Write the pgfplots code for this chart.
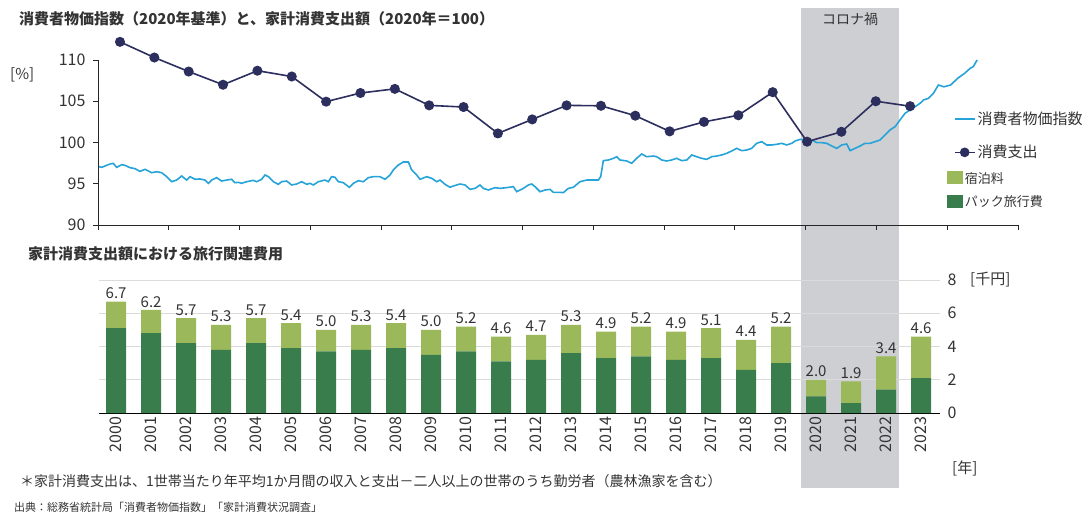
\documentclass[border=0pt]{standalone}
\usepackage{fontspec}
\setmainfont{Noto Sans CJK JP}
\usepackage{pgfplots}
\pgfplotsset{compat=1.18}
\usepackage{pgfplotstable}

\definecolor{cpi}{RGB}{38,163,216}
\definecolor{spend}{RGB}{44,46,94}
\definecolor{pack}{RGB}{58,125,76}
\definecolor{inn}{RGB}{155,184,90}
\definecolor{band}{RGB}{206,207,210}
\definecolor{txt}{RGB}{51,51,51}
\newcommand\fs[1]{\fontsize{#1}{#1}\selectfont}

\pgfplotstableread{
year pack inn total
2000 5.1 1.6 6.7
2001 4.8 1.4 6.2
2002 4.2 1.5 5.7
2003 3.8 1.5 5.3
2004 4.2 1.5 5.7
2005 3.9 1.5 5.4
2006 3.7 1.3 5.0
2007 3.8 1.5 5.3
2008 3.9 1.5 5.4
2009 3.5 1.5 5.0
2010 3.7 1.5 5.2
2011 3.1 1.5 4.6
2012 3.2 1.5 4.7
2013 3.6 1.7 5.3
2014 3.3 1.6 4.9
2015 3.4 1.8 5.2
2016 3.2 1.7 4.9
2017 3.3 1.8 5.1
2018 2.6 1.8 4.4
2019 3.0 2.2 5.2
2020 1.0 1.0 2.0
2021 0.6 1.3 1.9
2022 1.4 2.0 3.4
2023 2.1 2.5 4.6
}\travel

\pgfplotstableread{
year val
2000 112.2
2001 110.3
2002 108.6
2003 107.0
2004 108.7
2005 108.0
2006 104.95
2007 106.0
2008 106.5
2009 104.5
2010 104.3
2011 101.1
2012 102.8
2013 104.5
2014 104.45
2015 103.25
2016 101.35
2017 102.5
2018 103.3
2019 106.1
2020 100.1
2021 101.3
2022 105.0
2023 104.4
}\spenddata

\pgfplotstableread{
t val
1999.389 97.07
1999.466 96.99
1999.709 97.39
1999.806 97.47
1999.903 96.99
2000.049 97.31
2000.146 97.23
2000.291 96.95
2000.437 96.83
2000.582 96.50
2000.728 96.75
2000.922 96.34
2001.068 96.46
2001.213 96.34
2001.359 95.86
2001.504 95.25
2001.650 95.45
2001.795 95.94
2001.941 95.45
2002.038 95.86
2002.183 95.54
2002.329 95.58
2002.474 95.45
2002.572 95.05
2002.669 95.45
2002.814 95.74
2002.960 95.33
2003.105 95.45
2003.251 95.54
2003.348 95.13
2003.445 95.17
2003.542 95.05
2003.688 95.25
2003.882 95.41
2003.979 95.25
2004.124 95.54
2004.221 96.06
2004.318 95.86
2004.464 95.25
2004.609 94.93
2004.706 95.25
2004.852 95.33
2004.998 94.85
2005.143 94.97
2005.289 95.25
2005.434 94.93
2005.531 95.05
2005.628 94.85
2005.774 95.25
2005.968 95.45
2006.065 95.25
2006.162 95.86
2006.259 95.78
2006.356 95.25
2006.502 95.13
2006.676 94.57
2006.793 95.05
2006.938 95.37
2007.084 95.25
2007.229 95.74
2007.375 95.86
2007.569 95.86
2007.715 95.54
2007.860 96.06
2007.957 96.67
2008.103 97.27
2008.248 97.64
2008.394 97.64
2008.491 96.67
2008.637 96.06
2008.734 95.54
2008.928 95.86
2009.073 95.66
2009.219 95.25
2009.316 95.45
2009.462 94.93
2009.607 94.57
2009.704 94.73
2009.899 94.97
2010.044 94.85
2010.190 94.32
2010.335 94.44
2010.481 94.85
2010.577 94.44
2010.723 94.24
2010.917 94.53
2011.062 94.44
2011.256 94.53
2011.450 94.65
2011.547 94.04
2011.742 94.44
2011.887 94.85
2011.984 94.97
2012.081 94.65
2012.227 94.04
2012.372 94.24
2012.518 94.32
2012.615 93.96
2012.809 93.96
2012.906 93.92
2013.052 94.44
2013.197 94.57
2013.391 95.25
2013.585 95.45
2013.779 95.45
2013.925 95.45
2013.993 95.86
2014.070 97.80
2014.216 97.88
2014.362 98.08
2014.459 98.28
2014.556 97.88
2014.750 97.76
2014.895 97.48
2015.041 98.08
2015.186 98.61
2015.332 98.28
2015.526 98.36
2015.623 98.28
2015.769 97.88
2015.914 97.76
2016.060 97.88
2016.205 98.08
2016.351 97.80
2016.497 97.88
2016.642 98.49
2016.788 98.28
2016.933 98.08
2017.079 97.96
2017.224 98.28
2017.370 98.36
2017.515 98.49
2017.661 98.69
2017.807 98.97
2017.952 99.29
2018.098 99.01
2018.243 99.09
2018.389 99.29
2018.534 99.90
2018.680 100.10
2018.826 99.70
2018.971 99.70
2019.117 99.78
2019.262 99.90
2019.408 99.70
2019.553 99.90
2019.650 100.18
2019.796 100.38
2019.942 100.30
2020.039 100.30
2020.184 100.22
2020.281 99.98
2020.427 99.98
2020.572 99.90
2020.718 99.58
2020.863 99.29
2021.009 99.70
2021.154 99.82
2021.252 99.01
2021.397 99.29
2021.543 99.58
2021.688 99.90
2021.834 99.90
2021.979 100.10
2022.125 100.30
2022.270 100.91
2022.416 101.52
2022.562 101.92
2022.707 102.73
2022.853 103.54
2022.998 103.94
2023.144 104.34
2023.289 104.75
2023.387 105.15
2023.532 105.35
2023.678 105.96
2023.823 106.97
2023.980 106.75
2024.180 106.97
2024.390 107.80
2024.590 108.40
2024.750 109.00
2024.840 109.20
2024.950 110.00
}\cpidata

\begin{document}
\begin{tikzpicture}[x=1pt,y=1pt]
\useasboundingbox (0,0) rectangle (1088,515);
% Corona band
\fill[band] (801,27) rectangle (899,507);
\node[anchor=base, font=\fs{14}, text=txt, inner sep=0] at (850,490) {コロナ禍};

% titles and notes
\node[anchor=base west, font=\bfseries\fs{15}, text=txt, inner sep=0] at (19,490) {消費者物価指数（2020年基準）と、家計消費支出額（2020年＝100）};
\node[anchor=base west, font=\bfseries\fs{15}, text=txt, inner sep=0] at (28,255) {家計消費支出額における旅行関連費用};
\node[anchor=base west, font=\fs{14}, text=txt, inner sep=0] at (20,29) {＊家計消費支出は、1世帯当たり年平均1か月間の収入と支出－二人以上の世帯のうち勤労者（農林漁家を含む）};
\node[anchor=base west, font=\fs{11}, text=txt, inner sep=0] at (14,4) {出典：総務省統計局「消費者物価指数」「家計消費状況調査」};
\node[anchor=base west, font=\fs{15}, text=txt, inner sep=0] at (10,435) {[\%]};
\node[anchor=base west, font=\fs{15}, text=txt, inner sep=0] at (970,230) {[千円]};
\node[anchor=base west, font=\fs{15}, text=txt, inner sep=0] at (952,42) {[年]};

% top axis
\begin{axis}[
  at={(98pt,290pt)}, anchor=south west, scale only axis,
  width=920pt, height=165pt,
  xmin=1999.36, xmax=2026.14, ymin=90, ymax=110, clip=false,
  axis x line*=bottom, axis y line*=left,
  axis line style={-, draw=black!85, line width=0.9pt},
  xtick={1999.36,2001.42,2003.48,2005.54,2007.60,2009.66,2011.72,2013.78,2015.84,2017.90,2019.96,2022.02,2024.08,2026.14},
  xticklabels={},
  ytick={90,95,100,105,110},
  yticklabel pos=left,
  tick align=outside, major tick length=5pt,
  tick style={draw=black!85, line width=0.9pt},
  yticklabel style={font=\fs{16}, text=txt, anchor=east, xshift=-4pt},
  /pgf/number format/assume math mode=true,
  legend cell align=left,
  legend style={at={(0.930,0.697)}, anchor=north west, draw=none, fill=none,
    font=\fs{15}, text=txt, row sep=15pt, inner sep=0pt},
]
\addplot[cpi, line width=1.6pt, no marks,
  legend image code/.code={\draw[cpi, line width=1.8pt] (0pt,0pt) -- (20pt,0pt);}]
  table[x=t, y=val] {\cpidata};
\addplot[spend, line width=1.6pt, mark=*, mark size=4.2pt, mark options={fill=spend, draw=spend, solid},
  legend image code/.code={\draw[spend, line width=1.6pt] (0pt,0pt) -- (20pt,0pt); \fill[spend] (10pt,0pt) circle (4pt);}]
  table[x=year, y=val] {\spenddata};
\legend{消費者物価指数, 消費支出}
\end{axis}

% bottom axis
\begin{axis}[
  at={(99pt,102pt)}, anchor=south west, scale only axis,
  width=841pt, height=133pt,
  xmin=1999.51, xmax=2023.54, ymin=0, ymax=8, clip=false,
  ybar stacked, bar width=20pt,
  axis x line*=bottom, axis y line*=right,
  x axis line style={-, draw=black, line width=1pt},
  y axis line style={draw=none},
  xtick={2000,2001,...,2023},
  xtick style={draw=none}, ytick style={draw=none},
  ytick={0,2,4,6,8},
  xticklabel style={rotate=90, anchor=east, font=\fs{16}, text=txt},
  yticklabel style={font=\fs{16}, text=txt, xshift=4pt},
  /pgf/number format/assume math mode=true,
  /pgf/number format/1000 sep={},
  ymajorgrids, grid style={draw=black!14, line width=0.7pt},
  reverse legend,
  legend cell align=left,
  legend style={at={(1.008,1.827)}, anchor=north west, draw=none, fill=none,
    font=\fs{13}, text=txt, row sep=7pt, inner sep=0pt},
]
\addplot[fill=pack, draw=none, legend image code/.code={\fill[pack] (0pt,-6pt) rectangle (16pt,7pt);}] table[x=year, y=pack] {\travel};
\addlegendentry{パック旅行費}
\addplot[fill=inn, draw=none, legend image code/.code={\fill[inn] (0pt,-6pt) rectangle (16pt,7pt);}] table[x=year, y=inn] {\travel};
\addlegendentry{宿泊料}
\end{axis}

% value labels above the stacked bars
\begin{axis}[
  at={(99pt,102pt)}, anchor=south west, scale only axis,
  width=841pt, height=133pt,
  xmin=1999.51, xmax=2023.54, ymin=0, ymax=8, clip=false,
  hide axis,
  /pgf/number format/assume math mode=true,
]
\addplot[only marks, mark=none, point meta=y,
  nodes near coords={\pgfmathprintnumber[fixed,fixed zerofill,precision=1]{\pgfplotspointmeta}},
  every node near coord/.append style={font=\fs{15}, text=txt, anchor=south, inner sep=2pt, yshift=0.5pt}]
  table[x=year, y=total] {\travel};
\end{axis}
\end{tikzpicture}
\end{document}
